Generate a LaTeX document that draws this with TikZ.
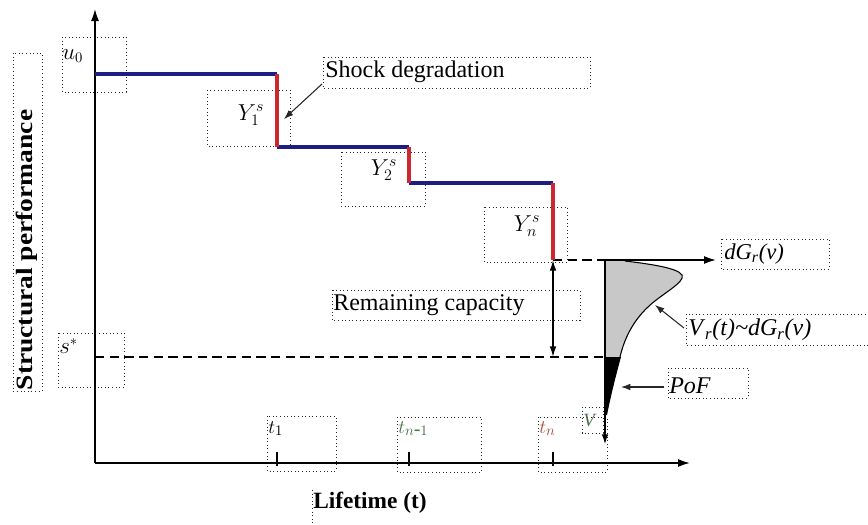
\documentclass[tikz,border=0pt]{standalone}
\usepackage{fontspec}
\setmainfont{Liberation Serif}
\usetikzlibrary{arrows.meta}
\definecolor{stepblue}{RGB}{30,30,130}
\definecolor{stepred}{RGB}{205,40,45}
\definecolor{fillgrey}{RGB}{200,200,200}
\definecolor{tgreen}{RGB}{70,115,70}
\definecolor{tred}{RGB}{165,80,60}
\begin{document}
\begin{tikzpicture}[x=0.75pt,y=-0.75pt,
  dbox/.style={draw=black!85, dotted, line width=0.7pt},
  axisline/.style={line width=1.2pt, -{Latex[length=9pt,width=6pt]}},
  stepb/.style={stepblue, line width=2.6pt},
  stepr/.style={stepred, line width=2.6pt},
  lab/.style={font=\fontsize{18}{20}\selectfont, inner sep=0pt},
  mlab/.style={font=\fontsize{18}{20}\selectfont, inner sep=0pt},
  blab/.style={font=\fontsize{17.5}{20}\selectfont\bfseries, inner sep=0pt},
  ptr/.style={line width=0.8pt, black!85, -{Latex[length=7pt,width=5pt]}},
  dashline/.style={line width=1.1pt, dash pattern=on 7pt off 4pt}]
\useasboundingbox (0,0) rectangle (868,525);

% key points
\coordinate (O) at (95,463);
\coordinate (ytop) at (95,9);
\coordinate (xend) at (690,463);
\coordinate (a0) at (95,74);
\coordinate (a1) at (277,74);
\coordinate (b1) at (277,147);
\coordinate (b2) at (409,147);
\coordinate (c2) at (409,183);
\coordinate (c3) at (553,183);
\coordinate (d3) at (553,260);
\coordinate (rc) at (553,357);
\coordinate (sl) at (95,357);
\coordinate (g0) at (605,260);
\coordinate (g3) at (605,357);
\coordinate (gv) at (605,445);
\coordinate (dgtip) at (716,260);

% dotted label boxes
\draw[dbox] (13,53) rectangle (42,391);
\draw[dbox] (62,37) rectangle (126,92);
\draw[dbox] (323,57) rectangle (590,88);
\draw[dbox] (207,90) rectangle (290,146);
\draw[dbox] (341,152) rectangle (425,206);
\draw[dbox] (484,207) rectangle (567,262);
\draw[dbox] (332,290) rectangle (580,320);
\draw[dbox] (58,333) rectangle (124,387);
\draw[dbox] (721,239) rectangle (829,269);
\draw[dbox] (686,314) rectangle (880,345);
\draw[dbox] (668,368) rectangle (748,398);
\draw[dbox] (582,407) rectangle (603,433);
\draw[dbox] (267,416) rectangle (336,471);
\draw[dbox] (397,417) rectangle (481,472);
\draw[dbox] (538,417) rectangle (607,472);
\draw[dbox] (312,490) -- (312,525);

% axes
\draw[axisline] (O) -- (ytop);
\draw[axisline] (O) -- (xend);
\foreach \tx in {277,409,553} \draw[line width=1pt] (\tx,452) -- (\tx,466);

% distribution
\fill[fillgrey] (g0) -- (625,261) .. controls (650,264) and (678,268) .. (682,275)
  .. controls (686,282) and (660,295) .. (648,307)
  .. controls (632,322) and (624,340) .. (620,357) -- (g3) -- cycle;
\draw[line width=0.8pt] (625,261) .. controls (650,264) and (678,268) .. (682,275)
  .. controls (686,282) and (660,295) .. (648,307)
  .. controls (632,322) and (624,340) .. (620,357);
\fill[black] (g3) -- (621,357) .. controls (616,375) and (611,395) .. (607,415) -- (605,415) -- cycle;
\draw[line width=1.5pt, -{Latex[length=8pt,width=5pt]}] (g0) -- (gv);
\draw[line width=1.2pt, -{Latex[length=9pt,width=6pt]}] (g0) -- (dgtip);

% dashed lines
\draw[dashline] (d3) -- (g0);
\draw[dashline] (sl) -- (g3);
\draw[line width=1pt, {Latex[length=8pt,width=5pt]}-{Latex[length=8pt,width=5pt]}] (d3) -- (rc);

% step function
\draw[stepb] (a0) -- (a1);
\draw[stepb] (b1) -- (b2);
\draw[stepb] (c2) -- (c3);
\draw[stepr] (a1) -- (b1);
\draw[stepr] (b2) -- (c2);
\draw[stepr] (c3) -- (d3);

% labels
\node[blab, rotate=90] (sp) at (27,250) {\scalebox{1.18}[1]{Structural performance}};
\node[blab, anchor=west] (lt) at (313,503) {Lifetime (t)};
\node[mlab, anchor=west, font=\fontsize{16}{18}\selectfont] (u0) at (62,56) {$u_0$};
\node[mlab, anchor=west, font=\fontsize{16}{18}\selectfont] (ss) at (59,346) {$s^{*}$};
\node[mlab] (y1) at (251,115) {$Y_1^s$};
\node[mlab] (y2) at (384,170) {$Y_2^s$};
\node[mlab] (yn) at (527,226) {$Y_n^s$};
\node[lab, anchor=west] (sd) at (325,72) {Shock degradation};
\node[lab, anchor=west] (rcap) at (333,305) {Remaining capacity};
\node[lab, anchor=west, font=\fontsize{17}{20}\selectfont] (dg) at (724,254) {\textit{dG}\textsubscript{\textit{r}}\textit{(v)}};
\node[lab, anchor=west] (vr) at (688,330) {\textit{V}\textsubscript{\textit{r}}\textit{(t)\textasciitilde dG}\textsubscript{\textit{r}}\textit{(v)}};
\node[lab, anchor=west] (pof) at (669,386) {\textit{PoF}};
\node[lab, text=tgreen, font=\fontsize{14}{16}\selectfont] (vv) at (590,421) {\textit{V}};
\node[mlab, anchor=north west, font=\fontsize{15}{17}\selectfont] (t1) at (268,421) {$t_1$};
\node[mlab, anchor=north west, text=tgreen, font=\fontsize{15}{17}\selectfont] (tn1) at (398,421) {$t_{n\mbox{-}1}$};
\node[mlab, anchor=north west, text=tred, font=\fontsize{15}{17}\selectfont] (tn) at (539,421) {$t_n$};

% pointers
\coordinate (sda) at (322,84);
\coordinate (sdb) at (284,119);
\draw[ptr] (sda) -- (sdb);
\coordinate (vra) at (684,328);
\coordinate (vrb) at (655,305);
\draw[ptr] (vra) -- (vrb);
\coordinate (pofa) at (664,387);
\coordinate (pofb) at (621,387);
\draw[ptr] (pofa) -- (pofb);
\end{tikzpicture}
\end{document}
